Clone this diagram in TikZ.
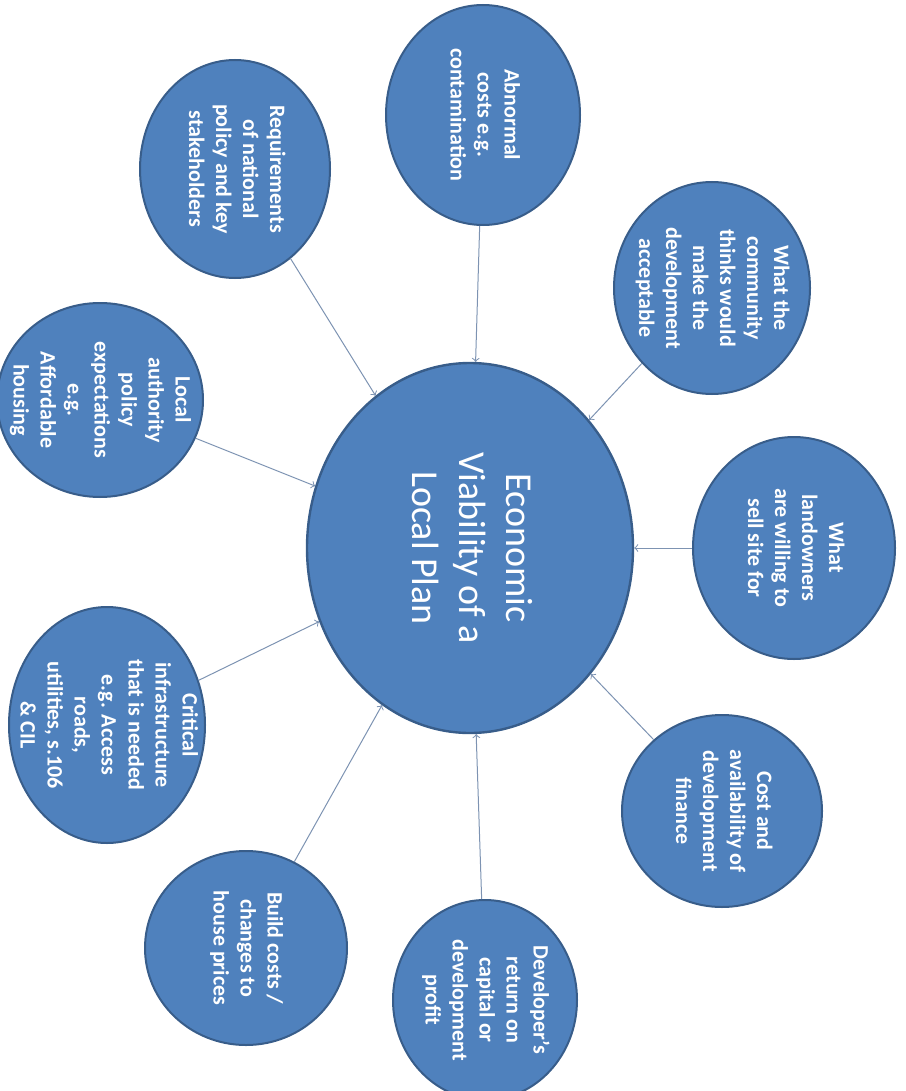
\documentclass[tikz,border=0pt]{standalone}
\usepackage{fontspec}
\setmainfont{Carlito}
\usetikzlibrary{shapes.geometric}
\definecolor{bleu}{HTML}{4F81BD}
\definecolor{bord}{HTML}{385D8A}
\definecolor{trait}{HTML}{7D93B2}
% text of a bubble, kept out of the size of the ellipse
\newcommand{\bul}[1]{\smash{\makebox[0pt]{\raisebox{-.25em}{\begin{tabular}{@{}c@{}}#1\end{tabular}}}}}

\begin{document}
\begin{tikzpicture}[x=0.5pt, y=-0.5pt,
            bulle/.style={ellipse, fill=bleu, draw=bord, line width=1pt, rotate=-90,
                inner sep=0pt, text=white, font=\fontsize{11}{13.5}\selectfont\bfseries},
            coeur/.style={bulle, line width=1.2pt, font=\fontsize{19}{23.5}\selectfont},
            fleche/.style={->, draw=trait, line width=0.5pt},
        ]
        \path[use as bounding box, clip] (0,0) rectangle (905,1091);
        % centre
        \node[coeur, minimum width=185pt, minimum height=163pt] (plan) at (470,548)
            {\bul{Economic\\Viability of a\\Local Plan}};
        % bubbles round it
        \node[bulle, minimum width=110pt, minimum height=97pt] (abnormal) at (483,115)
            {\bul{Abnormal\\costs e.g.\\contamination}};
        \node[bulle, minimum width=109pt, minimum height=95pt] (national) at (235,169)
            {\bul{Requirements\\of national\\policy and key\\stakeholders}};
        \node[bulle, minimum width=106pt, minimum height=98pt] (community) at (712,288)
            {\bul{What the\\community\\thinks would\\make the\\development\\acceptable}};
        \node[bulle, minimum width=97pt, minimum height=103pt] (localauth) at (100,400)
            {\bul{Local\\authority\\policy\\expectations\\e.g.\\Affordable\\housing}};
        \node[bulle, minimum width=111pt, minimum height=101pt] (landowners) at (794,548)
            {\bul{What\\landowners\\are willing to\\sell site for}};
        \node[bulle, minimum width=118pt, minimum height=98pt] (infra) at (107,725)
            {\bul{Critical\\infrastructure\\that is needed\\e.g. Access\\roads,\\utilities, s.106\\\& CIL}};
        \node[bulle, minimum width=96pt, minimum height=100pt] (finance) at (722,811)
            {\bul{Cost and\\availability of\\development\\finance}};
        \node[bulle, minimum width=97pt, minimum height=101pt] (build) at (246,948)
            {\bul{Build costs /\\changes to\\house prices}};
        \node[bulle, minimum width=100pt, minimum height=92pt] (developer) at (485,1000)
            {\bul{Developer’s\\return on\\capital or\\development\\profit}};
        % arrows
        \foreach \n in {abnormal,national,community,localauth,landowners,infra,finance,build,developer}
            \draw[fleche] (\n) -- (plan);
    \end{tikzpicture}
\end{document}
